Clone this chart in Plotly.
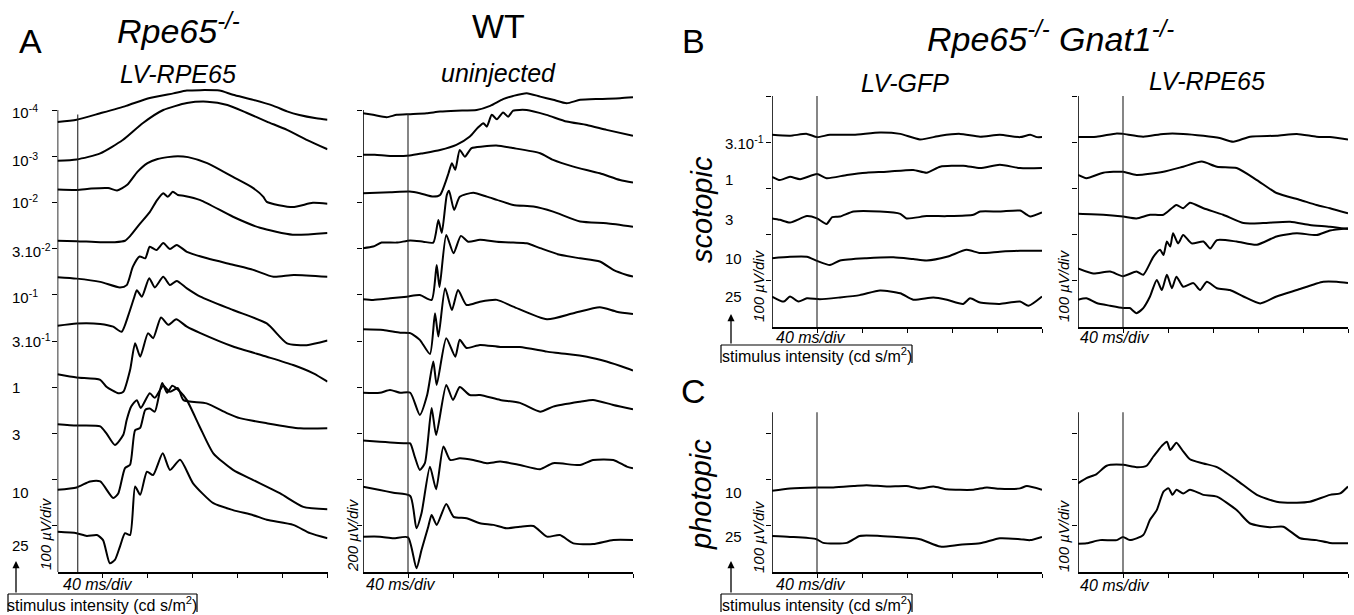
import plotly.graph_objects as go

W, H = 1354, 615
FONT = "Liberation Sans, Arial, Helvetica, sans-serif"

# ---------------- DATA (time in ms from sweep start, amplitude in µV as displayed, stacked) ----------------
# Panel A, Rpe65-/- LV-RPE65 (100 µV/div)
A_LABELS = ["10<sup>-4</sup>", "10<sup>-3</sup>", "10<sup>-2</sup>", "3.10<sup>-2</sup>", "10<sup>-1</sup>",
            "3.10<sup>-1</sup>", "1", "3", "10", "25"]
A_LABEL_UV = [996, 893, 802, 696, 597, 502, 399, 297, 171, 58]
A_T1 = [0, 17, 38, 61, 82, 103, 115, 127, 144, 156, 174, 192, 204, 215, 230, 240]
A_V1 = [974, 979, 993, 1009, 1026, 1036, 1042, 1043, 1042, 1033, 1022, 1009, 997, 989, 982, 979]
A_T2 = [0, 17, 38, 58, 76, 94, 115, 133, 151, 168, 186, 204, 222, 240]
A_V2 = [890, 893, 906, 935, 972, 1000, 1015, 1018, 1011, 994, 975, 957, 935, 915]
A_T3 = [0, 17, 30, 45, 53, 62, 71, 80, 89, 98, 107, 116, 133, 156, 174, 183, 186, 209, 227, 240]
A_V3 = [828, 827, 830, 831, 826, 838, 866, 885, 894, 898, 900, 898, 885, 855, 831, 812, 801, 790, 799, 797]
A_T4 = [0, 17, 38, 51, 60, 64.5, 73, 82, 88.5, 94, 98, 102.5, 107, 113, 127, 156, 180, 209, 240]
A_V4 = [717, 716, 714, 714, 717, 727, 753, 779, 805, 820, 812, 823, 816, 814, 805, 769, 745, 730, 734]
A_T5 = [0, 17, 38, 55.5, 61.5, 67, 73, 78, 82, 88, 94, 100, 106, 115, 133, 156, 174, 192, 210, 240]
A_V5 = [638, 635, 628, 616, 621, 661, 683, 679, 704, 697, 712, 699, 708, 693, 679, 665, 654, 639, 643, 639]
A_T6 = [0, 17, 38, 49.5, 57, 63, 68, 70.5, 75, 81.5, 86.5, 94, 100, 106, 115, 127, 156, 186, 204, 221.5, 240]
A_V6 = [533, 538, 537, 531, 520, 556, 593, 610, 596, 636, 616, 639, 621, 630, 614, 596, 567, 538, 495, 491, 501]
A_T7 = [0, 17, 38, 43.5, 54, 58.5, 64.5, 69, 73.5, 80.5, 85, 92, 98.5, 105.5, 115, 127, 156, 186, 209.5, 227.5, 240]
A_V7 = [428, 421, 416, 401, 387, 390, 437, 495, 466, 517, 506, 551, 535, 547, 531, 517, 488, 466, 448, 430, 412]
A_T8 = [0, 17, 38, 43.5, 51, 58.5, 61.5, 65.5, 70.5, 74, 82, 86.5, 94, 100, 107, 112, 132.5, 150.5, 162, 186, 215.5, 240]
A_V8 = [320, 317, 315, 300, 275, 297, 329, 358, 372, 355, 387, 377, 403, 390, 398, 372, 365, 344, 333, 322, 311, 311]
A_T9 = [0, 17, 29, 38, 49.5, 54, 60, 64.5, 69, 73.5, 78, 82, 86.5, 93, 97.5, 102, 109, 115, 126.5, 138.5, 156, 174,
        198, 218.5, 240]
A_V9 = [178, 183, 196, 196, 160, 170, 225, 232, 307, 312, 351, 354, 347, 409, 388, 403, 390, 372, 314, 257, 221, 199,
        170, 141, 136]
A_T10 = [0, 17, 26, 35, 40.5, 46.5, 51, 55.5, 60, 64.5, 69, 73.5, 79.5, 85, 93.5, 100, 109, 120.5, 138.5, 156, 174,
         186, 209.5, 224.5, 240]
A_V10 = [87, 84, 78, 80, 69, 19, 26, 55, 84, 80, 185, 167, 217, 210, 257, 221, 243, 192, 149, 134, 123, 113, 102, 84, 73]

# Panel A, WT uninjected (200 µV/div)
W_T1 = [0, 9, 21, 30, 42, 56.5, 68.5, 83, 101, 113, 124.5, 133.5, 145.5, 157.5, 169, 181, 193, 210.5, 228.5, 240]
W_V1 = [1986, 1979, 1969, 1979, 1982, 1986, 1993, 1997, 2000, 2018, 2047, 2061, 2073, 2058, 2044, 2029, 2044, 2048,
        2051, 2055]
W_T2 = [0, 10.5, 24, 41.5, 53.5, 68.5, 83, 95, 102, 107, 110, 114.5, 119, 124.5, 129, 133.5, 145.5, 163, 181, 199,
        216.5, 240]
W_V2 = [1806, 1806, 1801, 1803, 1813, 1827, 1849, 1885, 1923, 1943, 1928, 1979, 1960, 1989, 1971, 1997, 2000, 1979,
        1950, 1935, 1914, 1888]
W_T3 = [0, 24, 41.5, 50.5, 62.5, 68.5, 73, 76, 79, 82, 86, 90.5, 96.5, 106.5, 118.5, 133.5, 157.5, 169, 187, 210.5,
        228.5, 240]
W_V3 = [1640, 1644, 1647, 1640, 1625, 1632, 1683, 1726, 1770, 1741, 1827, 1798, 1835, 1842, 1846, 1835, 1813, 1784,
        1755, 1726, 1697, 1686]
W_T4 = [0, 9, 16.5, 30, 42, 53.5, 62.5, 67, 70, 74.5, 76.5, 81, 86, 98, 110, 119, 133.5, 151.5, 169, 193, 216.5, 240]
W_V4 = [1402, 1409, 1426, 1426, 1435, 1430, 1426, 1524, 1468, 1632, 1650, 1567, 1624, 1642, 1625, 1611, 1589, 1582,
        1560, 1517, 1510, 1495]
W_T5 = [0, 9, 24, 39, 50.5, 61, 65.5, 68, 74, 80.5, 87, 93.5, 104, 119, 133.5, 145.5, 157.5, 175, 193, 210.5, 222.5,
        234.5, 240]
W_V5 = [1181, 1178, 1185, 1192, 1199, 1178, 1329, 1233, 1459, 1380, 1455, 1430, 1438, 1430, 1426, 1423, 1402, 1373,
        1358, 1344, 1308, 1286, 1279]
W_T6 = [0, 18, 33, 42, 50.5, 59.5, 64, 67, 73, 79, 84.5, 92, 104, 119, 133.5, 163.5, 187, 210.5, 225.5, 240]
W_V6 = [1051, 1048, 1036, 1034, 1005, 944, 1120, 1019, 1228, 1134, 1221, 1156, 1170, 1178, 1149, 1094, 1120, 1146,
        1127, 1117]
W_T7 = [0, 15, 24, 33, 42, 50.5, 57, 62.5, 65.5, 74, 82, 86, 92, 104, 122, 139.5, 163.5, 175, 199, 216.5, 234.5, 240]
W_V7 = [776, 776, 788, 776, 776, 680, 766, 911, 810, 1012, 932, 1005, 970, 983, 974, 974, 954, 947, 932, 911, 882, 872]
W_T8 = [0, 15, 39, 42, 46, 50.5, 55, 61, 65, 74, 80, 86, 95, 104, 122, 139.5, 157.5, 169, 193, 204.5, 222.5, 240]
W_V8 = [569, 564, 557, 557, 499, 442, 471, 710, 593, 810, 745, 801, 766, 766, 745, 732, 694, 716, 737, 745, 723, 704]
W_T9 = [0, 15, 27, 42, 47.5, 52, 59.5, 65, 71.5, 77.5, 86, 98, 110, 122, 139.5, 157.5, 169, 193, 204.5, 222.5, 234.5,
        240]
W_V9 = [369, 355, 343, 329, 189, 254, 456, 358, 543, 485, 492, 485, 471, 478, 463, 445, 471, 463, 485, 485, 456, 449]
W_T10 = [0, 15, 27, 40, 47.5, 52, 58, 61, 65.5, 74, 80.5, 92, 104, 116, 127.5, 139.5, 151.5, 163.5, 175, 187, 204.5,
         222.5, 240]
W_V10 = [153, 153, 146, 150, 16, 95, 196, 247, 204, 294, 239, 233, 211, 204, 189, 196, 199, 153, 160, 124, 121, 139, 139]

# Panel B, Rpe65-/- Gnat1-/- scotopic (100 µV/div)
B_LABELS = ["3.10<sup>-1</sup>", "1", "3", "10", "25"]
B_LABEL_UV = [400, 320, 232, 149, 65]
B1_T1 = [0, 16, 31, 40, 51.5, 72.5, 96, 114, 131.5, 149.5, 167, 185, 202.5, 220.5, 229.5, 235.5, 240]
B1_V1 = [416, 414, 418, 411, 416, 416, 421, 418, 406, 414, 418, 412, 416, 411, 416, 411, 411]
B1_T2 = [0, 7, 16, 25, 40, 48.5, 66.5, 84, 102, 125.5, 137.5, 149.5, 170, 185, 202.5, 220.5, 240]
B1_V2 = [325, 318, 325, 320, 331, 322, 329, 334, 336, 340, 334, 347, 349, 344, 351, 344, 344]
B1_T3 = [0, 7, 16, 31, 40, 48.5, 53.5, 60.5, 72.5, 96, 114, 119.5, 137.5, 155.5, 179, 185, 202.5, 220.5, 226.5, 229.5,
         240]
B1_V3 = [235, 232, 226, 240, 235, 223, 238, 239, 250, 250, 245, 235, 240, 240, 243, 250, 250, 252, 243, 239, 248]
B1_T4 = [0, 16, 31, 40, 51.5, 60.5, 84, 108, 125.5, 137.5, 155.5, 173, 185, 202.5, 220.5, 240]
B1_V4 = [149, 152, 152, 143, 134, 144, 149, 151, 147, 144, 152, 167, 160, 163, 165, 165]
B1_T5 = [0, 10.5, 16, 23.5, 31, 42.5, 60.5, 78, 96, 114, 125.5, 143.5, 155.5, 170, 176, 185, 202.5, 220.5, 228, 240]
B1_V5 = [66, 55, 66, 55, 62, 60, 64, 69, 79, 73, 59, 64, 59, 50, 62, 53, 50, 55, 46, 66]

B2_T1 = [0, 16.5, 34.5, 40, 58, 76, 93.5, 111.5, 126, 138, 153, 176.5, 194.5, 212, 224, 240]
B2_V1 = [411, 412, 419, 418, 412, 418, 418, 414, 409, 401, 412, 414, 418, 412, 411, 406]
B2_T2 = [0, 7.5, 22.5, 40, 52, 76, 93.5, 110, 123.5, 141, 159, 176.5, 197.5, 212, 224, 240]
B2_V2 = [329, 322, 334, 336, 329, 336, 347, 358, 347, 344, 318, 290, 275, 264, 257, 246]
B2_T3 = [0, 22.5, 40, 52, 64, 76, 87.5, 93.5, 99.5, 111.5, 129, 147, 164.5, 188.5, 206, 224, 240]
B2_V3 = [245, 243, 239, 235, 243, 243, 264, 257, 269, 257, 243, 225, 225, 228, 221, 217, 212]
B2_T4 = [0, 13.5, 28.5, 40, 52, 58, 67, 73, 76, 79, 82, 84.5, 89, 93.5, 101, 111.5, 117.5, 123.5, 141, 159, 176.5,
         194.5, 212, 224, 240]
B2_V4 = [127, 116, 120, 110, 120, 113, 152, 167, 156, 185, 174, 203, 181, 199, 181, 185, 170, 188, 185, 178, 196, 203,
         199, 209, 214]
B2_T5 = [0, 7.5, 16.5, 28.5, 40, 46, 52, 58, 64, 70, 74.5, 79, 83.5, 87.5, 93.5, 102.5, 108.5, 114.5, 123.5, 135, 147,
         162, 176.5, 194.5, 218, 230, 240]
B2_V5 = [59, 62, 52, 46, 41, 41, 30, 41, 66, 102, 80, 113, 84, 109, 87, 95, 80, 98, 84, 80, 66, 51, 66, 80, 98, 98, 95]

# Panel C, photopic (100 µV/div)
C_LABELS = ["10", "25"]
C_LABEL_UV = [172, 76]
C1_T1 = [0, 16, 39.5, 54.5, 72.5, 84, 102, 119.5, 131.5, 143.5, 155.5, 179, 191, 202.5, 220.5, 226.5, 240]
C1_V1 = [176, 181, 183, 183, 186, 188, 185, 186, 181, 185, 179, 178, 183, 180, 181, 186, 178]
C1_T2 = [0, 16, 39.5, 45.5, 66.5, 78, 96, 114, 131.5, 149.5, 167, 185, 202.5, 220.5, 229.5, 240]
C1_V2 = [78, 76, 71, 63, 63, 78, 78, 75, 71, 55, 59, 62, 73, 71, 69, 76]
C2_T1 = [0, 7.5, 16.5, 25.5, 40, 52, 61, 67, 71.5, 74.5, 79, 82, 87.5, 93.5, 99.5, 111.5, 123.5, 141, 159, 176.5,
         194.5, 206, 224, 233, 240]
C2_V1 = [192, 203, 212, 230, 232, 227, 230, 250, 264, 273, 282, 264, 280, 261, 244, 235, 227, 199, 167, 152, 150, 152,
         167, 170, 185]
C2_T2 = [0, 7.5, 19.5, 34.5, 40, 46, 58, 64, 70, 76, 80.5, 84, 87.5, 93.5, 99.5, 111.5, 123.5, 141, 153, 170.5, 182.5,
         197.5, 212, 224, 240]
C2_V2 = [61, 62, 69, 69, 76, 69, 80, 113, 134, 174, 181, 167, 178, 170, 178, 167, 163, 134, 105, 97, 98, 73, 69, 63, 62]

TIME_TICKS = [40, 80, 120, 160, 200, 240]

# ---------------- PANEL GEOMETRY (pixels) ----------------
PANELS = [
    dict(n=1, x0=57.5, ybot=572, ytop=80, uv_div=100, yticks=list(range(100, 1001, 100)), axis_top=1000,
         stim=18, stim_top=990,
         traces=[(A_T1, A_V1), (A_T2, A_V2), (A_T3, A_V3), (A_T4, A_V4), (A_T5, A_V5),
                 (A_T6, A_V6), (A_T7, A_V7), (A_T8, A_V8), (A_T9, A_V9), (A_T10, A_V10)]),
    dict(n=2, x0=363, ybot=572, ytop=80, uv_div=200, yticks=list(range(200, 2001, 200)), axis_top=2000,
         stim=40, stim_top=1983,
         traces=[(W_T1, W_V1), (W_T2, W_V2), (W_T3, W_V3), (W_T4, W_V4), (W_T5, W_V5),
                 (W_T6, W_V6), (W_T7, W_V7), (W_T8, W_V8), (W_T9, W_V9), (W_T10, W_V10)]),
    dict(n=3, x0=772, ybot=327, ytop=90, uv_div=100, yticks=[100, 200, 300, 400, 500], axis_top=500,
         stim=40, stim_top=500,
         traces=[(B1_T1, B1_V1), (B1_T2, B1_V2), (B1_T3, B1_V3), (B1_T4, B1_V4), (B1_T5, B1_V5)]),
    dict(n=4, x0=1078, ybot=327, ytop=90, uv_div=100, yticks=[100, 200, 300, 400, 500], axis_top=500,
         stim=40, stim_top=500,
         traces=[(B2_T1, B2_V1), (B2_T2, B2_V2), (B2_T3, B2_V3), (B2_T4, B2_V4), (B2_T5, B2_V5)]),
    dict(n=5, x0=772, ybot=572, ytop=405, uv_div=100, yticks=[100, 200, 300], axis_top=346,
         stim=40, stim_top=346,
         traces=[(C1_T1, C1_V1), (C1_T2, C1_V2)]),
    dict(n=6, x0=1078, ybot=572, ytop=405, uv_div=100, yticks=[100, 200, 300], axis_top=346,
         stim=40, stim_top=346,
         traces=[(C2_T1, C2_V1), (C2_T2, C2_V2)]),
]
PX_PER_DIV_X = 45.0   # 40 ms per div
PX_PER_DIV_Y = 46.2

fig = go.Figure()
shapes = []
layout = {}

for p in PANELS:
    n = p["n"]
    xs = "" if n == 1 else str(n)
    x_end = p["x0"] + 6 * PX_PER_DIV_X
    uv_per_px = p["uv_div"] / PX_PER_DIV_Y
    y_range_top = (p["ybot"] - p["ytop"]) * uv_per_px
    layout["xaxis" + xs] = dict(
        domain=[p["x0"] / W, x_end / W], range=[0, 240], anchor="y" + xs,
        showline=True, linecolor="black", linewidth=1.6, mirror=False,
        ticks="outside", tickvals=TIME_TICKS, ticklen=4, tickwidth=1.4, tickcolor="black",
        showticklabels=False, showgrid=False, zeroline=False, fixedrange=True)
    layout["yaxis" + xs] = dict(
        domain=[1 - p["ybot"] / H, 1 - p["ytop"] / H], range=[0, y_range_top], anchor="x" + xs,
        showline=False, ticks="outside", tickvals=p["yticks"], ticklen=5, tickwidth=1.4, tickcolor="black",
        showticklabels=False, showgrid=False, zeroline=False, fixedrange=True)
    # y axis line (ends at top tick)
    shapes.append(dict(type="line", xref="x" + xs, yref="y" + xs, x0=0, x1=0, y0=0, y1=p["axis_top"],
                       line=dict(color="black", width=1.6)))
    # stimulus onset line
    shapes.append(dict(type="line", xref="x" + xs, yref="y" + xs, x0=p["stim"], x1=p["stim"], y0=0,
                       y1=p["stim_top"], line=dict(color="#222", width=1.1)))
    for t, v in p["traces"]:
        fig.add_trace(go.Scatter(x=t, y=v, mode="lines", xaxis="x" + xs, yaxis="y" + xs,
                                 line=dict(color="black", width=2, shape="spline", smoothing=0.6),
                                 hoverinfo="skip", showlegend=False))


def px(x):
    return x / W


def py(y):
    return 1 - y / H


annotations = []


def ann(text, x, y, size, xanchor="center", angle=0, yanchor="middle"):
    annotations.append(dict(text=text, x=px(x), y=py(y), xref="paper", yref="paper", showarrow=False,
                            font=dict(family=FONT, size=size, color="black"), xanchor=xanchor,
                            yanchor=yanchor, textangle=angle))


# Titles
ann("A", 30, 41, 34)
ann("<i>Rpe65<sup>-/-</sup></i>", 178, 29, 34)
ann("<i>LV-RPE65</i>", 178, 74, 25)
ann("WT", 498, 26, 34)
ann("<i>uninjected</i>", 498, 73, 25)
ann("B", 693, 41, 34)
ann("<i>Rpe65<sup>-/-</sup> Gnat1<sup>-/-</sup></i>", 1050, 36, 34)
ann("<i>LV-GFP</i>", 905, 83, 25)
ann("<i>LV-RPE65</i>", 1207, 81, 25)
ann("C", 693, 391, 34)
ann("<i>scotopic</i>", 702, 210, 29, angle=-90)
ann("<i>photopic</i>", 701, 495, 29, angle=-90)

# Intensity labels (stimulus intensity, cd s/m2)
for lab, uv in zip(A_LABELS, A_LABEL_UV):
    ann(lab, 10, 572 - uv * PX_PER_DIV_Y / 100, 15, xanchor="left")
for lab, uv in zip(B_LABELS, B_LABEL_UV):
    ann(lab, 723, 327 - uv * PX_PER_DIV_Y / 100, 15, xanchor="left")
for lab, uv in zip(C_LABELS, C_LABEL_UV):
    ann(lab, 723, 572 - uv * PX_PER_DIV_Y / 100, 15, xanchor="left")

# scale labels
for x, y, t in [(45, 534, "100"), (352, 535, "200"), (758, 286, "100"), (1063, 286, "100"),
                (758, 537, "100"), (1063, 536, "100")]:
    ann("<i>%s µV/div</i>" % t, x, y, 15, angle=-90)
for x, y in [(97, 584), (400, 584), (810, 337), (1114, 337), (810, 584), (1114, 585)]:
    ann("<i>40 ms/div</i>", x, y, 16)

# stimulus intensity boxes + arrows
for bx0, bx1, by0, by1, arrow_x, arrow_top in [(8, 197, 594, 612, 16, 561),
                                               (721, 912, 345, 363, 731, 314),
                                               (721, 912, 594, 612, 731, 561)]:
    ann("stimulus intensity (cd s/m<sup>2</sup>)", (bx0 + bx1) / 2, (by0 + by1) / 2 + 1, 16)
    for (xa, ya, xb, yb) in [(bx0, by0, bx1, by0), (bx0, by0, bx0, by1), (bx1, by0, bx1, by1)]:
        shapes.append(dict(type="line", xref="paper", yref="paper", x0=px(xa), y0=py(ya), x1=px(xb), y1=py(yb),
                           line=dict(color="black", width=1.2)))
    annotations.append(dict(text="", x=px(arrow_x), y=py(arrow_top), ax=0, ay=by0 - arrow_top,
                            xref="paper", yref="paper", showarrow=True,
                            arrowhead=2, arrowsize=1.1, arrowwidth=1.3, arrowcolor="black"))

fig.update_layout(width=W, height=H, autosize=False, margin=dict(l=0, r=0, t=0, b=0),
                  paper_bgcolor="white", plot_bgcolor="white", showlegend=False,
                  shapes=shapes, annotations=annotations, **layout)

fig.write_html("out.html", config={"displayModeBar": False},
               post_script="document.body.style.margin='0px';document.body.style.overflow='hidden';")
